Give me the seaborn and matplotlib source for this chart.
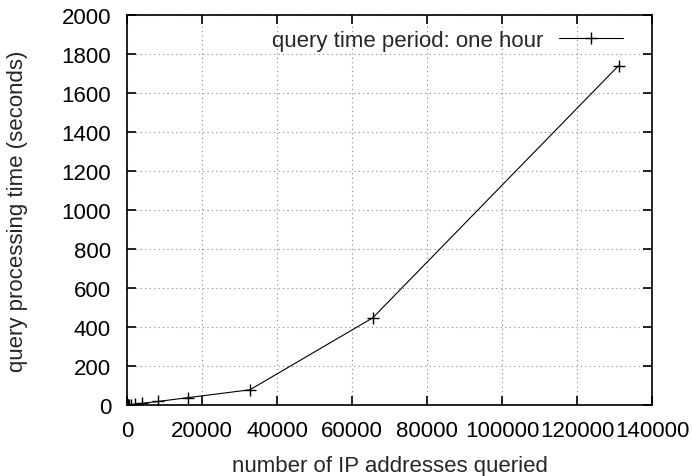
import matplotlib
matplotlib.use("Agg")
import matplotlib.pyplot as plt
import seaborn as sns
import pandas as pd

ip_counts = [1, 2, 4, 8, 16, 32, 64, 128, 256, 512, 1024, 2048, 4096, 8192, 16384, 32768, 65536, 131072]
proc_time = [0.5, 0.5, 0.5, 0.6, 0.6, 0.7, 0.8, 1, 1.2, 1.5, 2.5, 4.5, 9, 18, 38, 78, 447, 1740]
series_label = "query time period: one hour"
x_ticks = [0, 20000, 40000, 60000, 80000, 100000, 120000, 140000]
y_ticks = [0, 200, 400, 600, 800, 1000, 1200, 1400, 1600, 1800, 2000]

df = pd.DataFrame({"x": ip_counts, "y": proc_time, "s": series_label})

sns.set_theme(style="white")
plt.rcParams["font.family"] = ["Liberation Sans", "DejaVu Sans"]
FS = 16

fig = plt.figure(figsize=(6.92, 4.77), dpi=100)
ax = fig.add_axes([127/692, 1-406/477, (652-127)/692, (406-16)/477])

sns.lineplot(data=df, x="x", y="y", hue="s", palette=["black"], marker="+",
             markersize=9, markeredgewidth=1, linewidth=0.8, ax=ax,
             markeredgecolor="black")

ax.set_xlim(0, 140000)
ax.set_ylim(0, 2000)
ax.set_xticks(x_ticks)
ax.set_yticks(y_ticks)
ax.set_xticklabels([str(v) for v in x_ticks], fontsize=FS)
ax.set_yticklabels([str(v) for v in y_ticks], fontsize=FS)
ax.grid(True, color="#888888", linestyle=(0, (1, 3)), linewidth=0.8)
ax.tick_params(direction="in", length=6.5, width=1.2, top=True, right=True,
               bottom=True, left=True, colors="black")
ax.tick_params(axis="y", pad=11.5)
ax.tick_params(axis="x", pad=10.5)
for sp in ax.spines.values():
    sp.set_color("black")
    sp.set_linewidth(1.2)

ax.set_xlabel("number of IP addresses queried", fontsize=FS)
ax.set_ylabel("query processing time (seconds)", fontsize=FS)
ax.xaxis.set_label_coords(0.5, -0.128)
ax.yaxis.set_label_coords(-0.1886, 0.5)

leg = ax.legend(loc="upper right", bbox_to_anchor=((623-127)/525, (406-31)/390),
                frameon=False, markerfirst=False, borderpad=0, borderaxespad=0,
                handlelength=2.9, handletextpad=0.7, fontsize=FS)

fig.savefig("out.png", dpi=100)
